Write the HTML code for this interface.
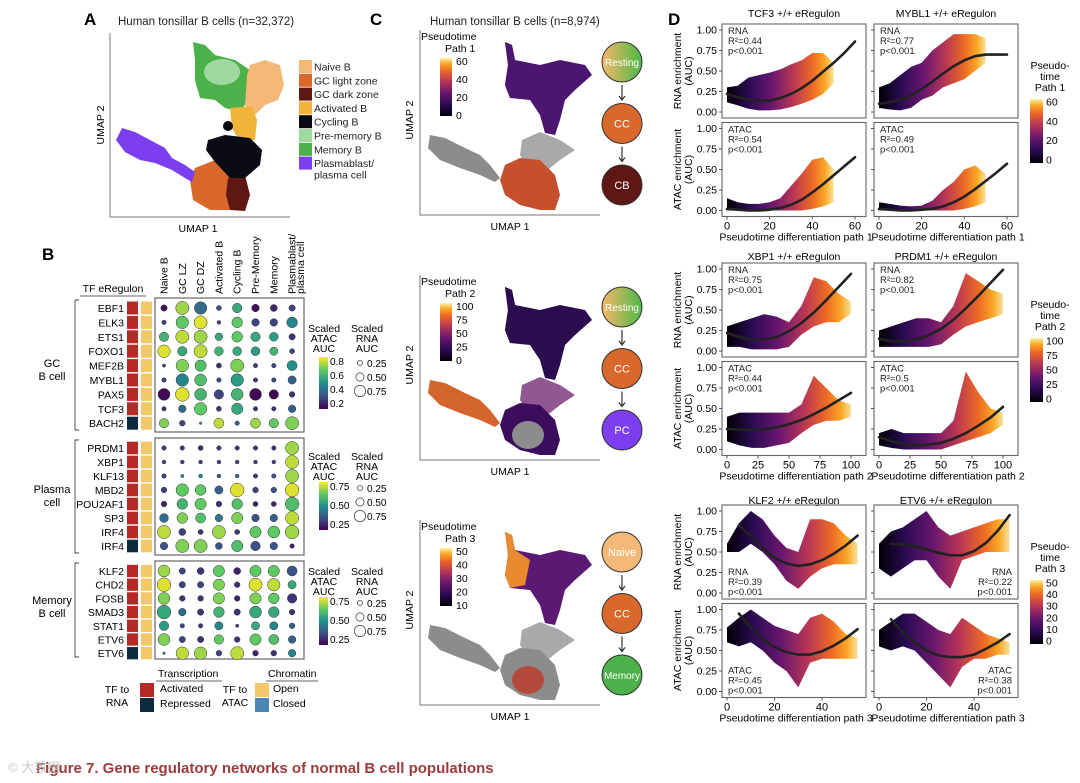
<!DOCTYPE html>
<html><head><meta charset="utf-8"><style>
body{margin:0;background:#fff}
svg{display:block;font-family:"Liberation Sans",Arial,sans-serif}
</style></head><body>
<svg id="fig" width="1080" height="783" viewBox="0 0 1080 783" xmlns="http://www.w3.org/2000/svg">
<defs>
<linearGradient id="infv" x1="0" x2="0" y1="1" y2="0">
<stop offset="0" stop-color="#000004"/><stop offset="0.2" stop-color="#2a0b52"/><stop offset="0.4" stop-color="#6a176e"/><stop offset="0.6" stop-color="#b83655"/><stop offset="0.78" stop-color="#ed6925"/><stop offset="0.9" stop-color="#f9a826"/><stop offset="1" stop-color="#fcf2a8"/></linearGradient>
<linearGradient id="virv" x1="0" x2="0" y1="1" y2="0">
<stop offset="0" stop-color="#440154"/><stop offset="0.25" stop-color="#3b528b"/><stop offset="0.5" stop-color="#21918c"/><stop offset="0.75" stop-color="#5ec962"/><stop offset="1" stop-color="#fde725"/></linearGradient>
<linearGradient id="resting" x1="0" x2="1"><stop offset="0" stop-color="#f4b86a"/><stop offset="1" stop-color="#4cb848"/></linearGradient>
</defs>

<g>
<text x="84" y="25" font-size="17" font-weight="bold">A</text>
<text x="118" y="25" font-size="11.5" fill="#222">Human tonsillar B cells (n=32,372)</text>
<path d="M110 33 V217 H290" fill="none" stroke="#777" stroke-width="1"/>
<text transform="translate(104,125) rotate(-90)" font-size="10.5" text-anchor="middle">UMAP 2</text>
<text x="198" y="232" font-size="10.5" text-anchor="middle">UMAP 1</text>
<polygon points="193,42 205,45 215,55 235,60 250,70 248,100 240,112 225,108 215,100 200,98 195,80 195,60" fill="#4cb14a"/>
<ellipse cx="222" cy="72" rx="18" ry="13" fill="#9fd8a0"/>
<polygon points="250,65 265,60 280,65 284,85 278,100 265,105 255,115 245,105 247,75" fill="#f4b878"/>
<polygon points="230,108 252,106 257,120 255,140 240,142 232,128" fill="#f0b43c"/>
<polygon points="195,168 215,160 235,170 240,200 232,210 210,210 193,200 190,180" fill="#d8682c"/>
<polygon points="228,178 245,175 250,195 245,211 230,210 226,195" fill="#5e1712"/>
<polygon points="208,140 225,135 250,138 262,150 260,165 245,178 230,178 215,162 206,150" fill="#0b0b14"/>
<ellipse cx="228" cy="126" rx="5" ry="5" fill="#0b0b14"/>
<polygon points="122,128 135,132 150,140 165,148 172,158 185,165 195,172 192,182 185,178 172,170 155,163 140,160 125,152 116,140" fill="#7b3ff0"/>
<g id="legA"></g>
</g>

<g id="panelB">
<text x="42" y="260" font-size="17" font-weight="bold">B</text>
<text x="113" y="292" font-size="10.5" text-anchor="middle">TF eRegulon</text>
<line x1="80" y1="296" x2="146" y2="296" stroke="#333" stroke-width="0.8"/>
</g>

<g id="panelC">
<text x="370" y="25" font-size="17" font-weight="bold">C</text>
<text x="430" y="25" font-size="11.5" fill="#222">Human tonsillar B cells (n=8,974)</text>
</g>

<g id="panelD">
<text x="668" y="25" font-size="17" font-weight="bold">D</text>
</g>

<text x="36" y="773" font-size="15" font-weight="bold" fill="#9c3b3b">Figure 7. Gene regulatory networks of normal B cell populations</text>
<text x="8" y="772" font-size="13" fill="#bbb" opacity="0.8">© 大数据</text>
</svg>

<script>
const NS="http://www.w3.org/2000/svg";
function mk(tag,attrs,parent,text){const e=document.createElementNS(NS,tag);for(const k in attrs)e.setAttribute(k,attrs[k]);if(text!==undefined)e.textContent=text;parent.appendChild(e);return e;}

const clusterNames=["Naive B","GC light zone","GC dark zone","Activated B","Cycling B","Pre-memory B","Memory B","Plasmablast/"];
const clusterColors=["#f4b878","#d8682c","#5e1712","#f0b43c","#0b0b14","#9fd8a0","#4cb14a","#7b3ff0"];
const legA=document.getElementById('legA');
clusterNames.forEach((n,i)=>{
  const y=60+i*13.8;
  const r=mk('rect',{x:299,y:y,width:13,height:13,fill:clusterColors[i]},legA);
  
  
  const t=mk('text',{x:314,y:y+10.5,'font-size':10.5,fill:'#222'},legA,n);
  
  
});
const pc=mk('text',{x:314,y:60+8*13.8+8,'font-size':10.5,fill:'#222'},legA,"plasma cell");



const cellTypes=["Naive B","GC LZ","GC DZ","Activated B","Cycling B","Pre-Memory","Memory","Plasmablast/"];
const gcRows=["EBF1","ELK3","ETS1","FOXO1","MEF2B","MYBL1","PAX5","TCF3","BACH2"];
const gcRep=[0,0,0,0,0,0,0,0,1];
const gcColor=[[.05,.85,.35,.25,.6,.05,.1,.2],[.2,.75,.95,.2,.75,.2,.2,.45],[.65,.9,.85,.6,.75,.6,.55,.15],[.95,.6,.9,.65,.6,.55,.65,.2],[.2,.8,.7,.15,.8,.2,.2,.5],[.2,.45,.7,.2,.55,.2,.2,.3],[.02,.95,.65,.2,.65,.02,.02,.15],[.15,.35,.75,.15,.6,.15,.15,.3],[.8,.2,.5,.9,.3,.85,.75,.8]];
const gcSize=[[.35,.9,.85,.25,.6,.45,.4,.35],[.2,.85,.9,.15,.7,.45,.45,.7],[.6,.9,.9,.45,.7,.6,.55,.35],[.85,.6,.9,.55,.55,.55,.5,.25],[.1,.85,.75,.25,.9,.2,.2,.65],[.2,.85,.8,.2,.85,.2,.2,.5],[.8,.95,.8,.6,.8,.8,.6,.3],[.2,.45,.85,.25,.75,.2,.2,.45],[.6,.3,.05,.65,.2,.65,.6,.9]];
const pcRows=["PRDM1","XBP1","KLF13","MBD2","POU2AF1","SP3","IRF4","IRF4"];
const pcRep=[0,0,0,0,0,0,0,1];
const pcColor=[[.15,.15,.15,.15,.15,.15,.15,.85],[.2,.2,.2,.2,.2,.2,.2,.9],[.2,.5,.5,.3,.4,.2,.25,.85],[.2,.75,.75,.3,.95,.2,.25,.95],[.1,.65,.75,.15,.7,.1,.1,.7],[.35,.8,.7,.4,.8,.25,.3,.9],[.9,.2,.15,.85,.15,.75,.75,.85],[.25,.8,.8,.25,.7,.25,.25,.1]];
const pcSize=[[.2,.2,.25,.2,.2,.2,.2,.9],[.15,.15,.15,.15,.15,.15,.15,.9],[.2,.1,.15,.15,.15,.2,.2,.9],[.3,.85,.7,.5,.95,.3,.3,.95],[.3,.7,.75,.3,.7,.25,.25,.95],[.55,.7,.65,.45,.75,.45,.45,.9],[.9,.4,.25,.9,.25,.75,.8,.95],[.45,.9,.9,.4,.75,.6,.45,.2]];
const memRows=["KLF2","CHD2","FOSB","SMAD3","STAT1","ETV6","ETV6"];
const memRep=[0,0,0,0,0,0,1];
const memColor=[[.85,.2,.15,.75,.1,.75,.75,.25],[.95,.2,.2,.8,.15,.95,.9,.6],[.8,.15,.15,.8,.1,.8,.75,.15],[.6,.35,.15,.65,.15,.6,.6,.15],[.55,.2,.15,.45,.2,.6,.45,.3],[.8,.2,.15,.75,.15,.75,.7,.3],[.5,.9,.85,.2,.9,.1,.15,.45]];
const memSize=[[.8,.35,.4,.75,.4,.75,.75,.65],[.95,.35,.35,.75,.3,.9,.85,.5],[.8,.3,.3,.75,.3,.75,.7,.6],[.95,.45,.35,.7,.35,.8,.7,.3],[.6,.2,.2,.5,.1,.5,.5,.3],[.8,.35,.35,.6,.3,.75,.65,.45],[.05,.85,.85,.3,.9,.3,.3,.45]];

const VIR=[[68,1,84],[59,82,139],[33,145,140],[94,201,98],[253,231,37]];
function viridis(v){v=Math.max(0,Math.min(1,v));const p=v*(VIR.length-1),i=Math.min(Math.floor(p),VIR.length-2),f=p-i;const c=VIR[i].map((a,k)=>Math.round(a+(VIR[i+1][k]-a)*f));return `rgb(${c})`;}
const colX=i=>164+i*18.3;
const rad=s=>1+s*6.2;

const pB=document.getElementById('panelB');
cellTypes.forEach((c,i)=>{
  const t=mk('text',{transform:`translate(${colX(i)+3.5},294) rotate(-90)`,'font-size':10.5},pB,c);
  
  
});
const pl=mk('text',{transform:`translate(${colX(7)+12},294) rotate(-90)`,'font-size':10.5},pB,"plasma cell");



function block(name,label,rows,rep,cols,sizes,y0,pitch,boxTop,boxBot,legTop,ticks,lx,ly){
  const g=mk('g',{},pB);
  
  
  const box=mk('rect',{x:155,y:boxTop,width:149,height:boxBot-boxTop,fill:'none',stroke:'#666','stroke-width':1.2},g);
  
  
  const br=mk('path',{d:`M79 ${boxTop+2} H75 V${boxBot-2} H79`,fill:'none',stroke:'#444','stroke-width':0.9},g);
  
  
  label.forEach((l,k)=>{const t=mk('text',{x:lx,y:ly+k*13,'font-size':11,'text-anchor':'middle'},g,l);
    
    });
  rows.forEach((r,j)=>{
    const y=y0+j*pitch;
    const t=mk('text',{x:124,y:y+4,'font-size':10.5,'text-anchor':'end'},g,r);
    
    
    const s1=mk('rect',{x:127,y:y-pitch/2+0.7,width:11,height:pitch-1.4,fill:rep[j]?'#0e2a3e':'#b52a26'},g);
    
    
    const s2=mk('rect',{x:141,y:y-pitch/2+0.7,width:11,height:pitch-1.4,fill:'#f3c86a'},g);
    
    
    cols[j].forEach((v,i)=>{
      const c=mk('circle',{cx:colX(i),cy:y,r:rad(sizes[j][i]),fill:viridis(v),stroke:'#333','stroke-width':0.5},g);
      
      
    });
  });
  ["Scaled","ATAC","AUC"].forEach((w,k)=>{const t=mk('text',{x:324,y:legTop+k*10,'font-size':10.5,'text-anchor':'middle'},g,w);});
  ["Scaled","RNA","AUC"].forEach((w,k)=>{const t=mk('text',{x:367,y:legTop+k*10,'font-size':10.5,'text-anchor':'middle'},g,w);});
  const bt=legTop+(ticks.length>3?25:22), bh=ticks.length>3?52:48;
  const cb=mk('rect',{x:319,y:bt,width:9,height:bh,fill:'url(#virv)'},g);
  
  
  ticks.forEach((tk,k)=>{const y=bt+4+k*(bh-10)/(ticks.length-1)+4;
    const t=mk('text',{x:330,y:y,'font-size':10},g,tk);});
  ["0.25","0.50","0.75"].forEach((tk,k)=>{const y=bt+6+k*14;
    const c=mk('circle',{cx:360,cy:y,r:rad(+tk),fill:'none',stroke:'#333','stroke-width':0.7},g);
    const t=mk('text',{x:367,y:y+4,'font-size':10},g,tk);});
}
block('gc-b-cell',["GC","B cell"],gcRows,gcRep,gcColor,gcSize,308,14.4,298,432,332,["0.8","0.6","0.4","0.2"],52,367);
block('plasma-cell',["Plasma","cell"],pcRows,pcRep,pcColor,pcSize,448,14,438,555,460,["0.75","0.50","0.25"],52,493);
block('memory-b-cell',["Memory","B cell"],memRows,memRep,memColor,memSize,571,13.7,561,659,575,["0.75","0.50","0.25"],52,604);

(function(){
  const g=mk('g',{},pB);
  
  
  const items=[["Transcription",158,677],["Chromatin",268,677],["TF to",117,693],["RNA",117,706],["Activated",160,692],["Repressed",160,707],["TF to",235,693],["ATAC",235,706],["Open",273,692],["Closed",273,707]];
  items.forEach(a=>{const t=mk('text',{x:a[1],y:a[2],'font-size':10.5,'text-anchor':a[0].startsWith('TF')||a[0]=='RNA'||a[0]=='ATAC'?'middle':'start'},g,a[0]);
    });
  const l1=mk('line',{x1:156,y1:681,x2:222,y2:681,stroke:'#333','stroke-width':0.8},g);
  const l2=mk('line',{x1:266,y1:681,x2:318,y2:681,stroke:'#333','stroke-width':0.8},g);
  [[140,683,'#b52a26'],[140,698,'#0e2a3e'],[255,683,'#f3c86a'],[255,698,'#4a86b4']].forEach(s=>{const r=mk('rect',{x:s[0],y:s[1],width:14,height:14,fill:s[2]},g);});
})();

const pC=document.getElementById('panelC');
const pathTicks=[["60","40","20","0"],["100","75","50","25","0"],["50","40","30","20","10"]];
const flows=[[["Resting","url(#resting)"],["CC","#d8682c"],["CB","#5e1712"]],[["Resting","url(#resting)"],["CC","#d8682c"],["PC","#7b3ff0"]],[["Naive","#f4b878"],["CC","#d8682c"],["Memory","#4cb14a"]]];
const umapFills=[
 {top:"#4c1670",topL:"#4c1670",left:"#8c8c8c",mid:"#8c8c8c",bot:"#c4502e",botC:"#c4502e"},
 {top:"#2b0c4f",topL:"#2b0c4f",left:"#d3652c",mid:"#6b1f6e",bot:"#3a0e5c",botC:"#8c8c8c"},
 {top:"#5a1a73",topL:"#ea8a2e",left:"#8c8c8c",mid:"#8c8c8c",bot:"#8c8c8c",botC:"#b44a3e"}];
[0,1,2].forEach(p=>{
  const dy=p*245;
  const g=mk('g',{transform:`translate(0,${dy})`},pC);
  
  
  const f=umapFills[p];
  const ax=mk('path',{d:'M420 30 V215 H600',fill:'none',stroke:'#777'},g);
  const yt=mk('text',{transform:'translate(413,120) rotate(-90)','font-size':10.5,'text-anchor':'middle'},g,'UMAP 2');
  const xt=mk('text',{x:510,y:230,'font-size':10.5,'text-anchor':'middle'},g,'UMAP 1');
  const shapes=[
   ['left',"430,135 445,138 465,148 480,155 490,165 500,178 495,182 480,175 460,168 440,160 428,148"],
   ['mid',"522,140 540,132 560,140 575,150 560,160 545,172 530,170 520,155"],
   ['bot',"505,165 520,158 540,160 555,175 560,195 555,210 540,210 520,205 505,195 500,180"],
   ['top',"505,42 512,45 515,60 540,65 560,60 585,65 592,75 575,90 565,100 560,120 555,135 545,133 540,115 530,100 510,98 505,85 508,65"]];
  shapes.forEach(s=>{const pg=mk('polygon',{points:s[1],fill:f[s[0]],opacity:s[0]=='mid'?0.75:1},g);});
  const tl=mk('polygon',{points:"505,42 512,45 515,60 530,70 525,95 510,98 505,85 508,65",fill:f.topL},g);
  const bc=mk('ellipse',{cx:528,cy:190,rx:16,ry:14,fill:f.botC},g);
  ["Pseudotime","Path "+(p+1)].forEach((w,k)=>{const t=mk('text',{x:k?445:421,y:40+k*12,'font-size':10.5},g,w);});
  const cb=mk('rect',{x:440,y:58,width:12,height:58,fill:'url(#infv)'},g);
  const tk=pathTicks[p];
  tk.forEach((t,k)=>{const y=62+k*54/(tk.length-1)+3;const e=mk('text',{x:456,y:y,'font-size':10.5},g,t);});
  flows[p].forEach((n,k)=>{const cy=62+k*61.5;
    const c=mk('circle',{cx:622,cy:cy,r:20,fill:n[1],stroke:'#333','stroke-width':1},g);
    const t=mk('text',{x:622,y:cy+4,'font-size':n[0].length>5?10:11,fill:'#fff','text-anchor':'middle'},g,n[0]);
    if(k<2){const a=mk('path',{d:`M622 ${cy+23} V${cy+37} M619 ${cy+34} L622 ${cy+38} L625 ${cy+34}`,stroke:'#333',fill:'none','stroke-width':1.2},g);}
  });
});

const g1BandX=[0,5,10,15,20,25,30,35,40,45,50];
const g1FitX=[0,5,10,15,20,25,30,35,40,45,50,55,60];
const tcf3RnaUp=[.3,.32,.42,.45,.48,.52,.58,.63,.72,.72,.6];
const tcf3RnaLo=[.12,.08,.04,.02,.02,.03,.06,.1,.15,.22,.35];
const tcf3RnaFit=[.22,.18,.15,.14,.14,.17,.22,.29,.38,.49,.6,.72,.86];
const mybl1RnaUp=[.3,.35,.45,.55,.6,.75,.85,.95,.95,.95,.9];
const mybl1RnaLo=[.05,.03,.02,.05,.15,.2,.3,.35,.4,.5,.6];
const mybl1RnaFit=[.1,.12,.15,.2,.28,.37,.47,.56,.63,.68,.7,.7,.7];
const tcf3AtacUp=[.15,.1,.08,.08,.1,.15,.3,.45,.62,.65,.5];
const tcf3AtacLo=[0,0,0,0,0,0,0,0,.02,.05,.1];
const tcf3AtacFit=[.02,.01,0,0,.01,.03,.07,.13,.22,.32,.43,.54,.65];
const mybl1AtacUp=[.1,.08,.06,.05,.06,.12,.25,.35,.5,.55,.45];
const mybl1AtacLo=[0,0,0,0,0,0,0,0,.02,.05,.1];
const mybl1AtacFit=[.02,.01,0,0,.01,.02,.05,.1,.17,.26,.36,.46,.57];
const g2BandX=[0,10,20,30,40,50,60,70,80,90,100];
const g2FitX=[0,10,20,30,40,50,60,70,80,90,100];
const xbp1RnaUp=[.3,.35,.4,.45,.42,.35,.55,.9,.85,.7,.6];
const xbp1RnaLo=[.05,.05,.02,.02,.02,.05,.2,.3,.35,.35,.45];
const xbp1RnaFit=[.22,.17,.14,.14,.17,.24,.34,.47,.62,.78,.94];
const prdm1RnaUp=[.25,.3,.35,.4,.4,.35,.55,.95,.85,.75,.7];
const prdm1RnaLo=[.05,.05,.05,.05,.05,.08,.2,.3,.35,.4,.45];
const prdm1RnaFit=[.15,.12,.12,.14,.19,.27,.38,.52,.67,.83,.99];
const xbp1AtacUp=[.4,.45,.45,.45,.45,.45,.55,.9,.75,.6,.55];
const xbp1AtacLo=[.1,.05,.02,.02,.05,.08,.2,.3,.35,.35,.4];
const xbp1AtacFit=[.25,.24,.24,.25,.27,.31,.36,.43,.51,.6,.69];
const prdm1AtacUp=[.2,.25,.2,.2,.2,.2,.35,.95,.7,.5,.45];
const prdm1AtacLo=[.05,.02,0,0,0,0,.05,.1,.15,.2,.3];
const prdm1AtacFit=[.15,.1,.07,.05,.06,.08,.13,.2,.29,.39,.52];
const g3BandX=[0,5,10,15,20,25,30,35,40,45,50,55];
const g3FitX=[5,10,15,20,25,30,35,40,45,50,55];
const klf2RnaUp=[.6,.85,1.0,.9,.7,.55,.5,.9,.9,.85,.7,.6];
const klf2RnaLo=[.5,.5,.6,.5,.35,.15,.05,.2,.3,.35,.35,.35];
const klf2RnaFit=[.82,.7,.55,.43,.36,.33,.35,.4,.48,.58,.7];
const etv6RnaUp=[.6,.75,.8,.9,1.0,.8,.7,.75,.8,.85,.9,.9];
const etv6RnaLo=[.3,.2,.3,.4,.4,.2,.05,.4,.45,.5,.5,.5];
const etv6RnaFit=[.6,.59,.57,.53,.49,.46,.46,.51,.61,.76,.95];
const klf2AtacUp=[.78,.9,1.0,.9,.8,.75,.7,.9,.95,.85,.7,.65];
const klf2AtacLo=[.6,.55,.6,.5,.35,.25,.05,.35,.4,.4,.4,.4];
const klf2AtacFit=[.95,.78,.64,.54,.48,.45,.45,.49,.56,.65,.76];
const etv6AtacUp=[.75,.85,.95,.95,.85,.75,.7,.9,.8,.7,.65,.6];
const etv6AtacLo=[.55,.5,.55,.5,.35,.2,.05,.3,.4,.4,.45,.45];
const etv6AtacFit=[.88,.72,.6,.5,.44,.42,.42,.45,.52,.6,.7];

const groups=[
 {top:24,title:15,xTicks:[0,20,40,60],xRef:60,xRefPx:128,path:"1",bandX:g1BandX,fitX:g1FitX,cbTicks:["60","40","20","0"],
  names:["TCF3","MYBL1"],
  panels:[[tcf3RnaUp,tcf3RnaLo,tcf3RnaFit,"RNA","R²=0.44"],[mybl1RnaUp,mybl1RnaLo,mybl1RnaFit,"RNA","R²=0.77"],[tcf3AtacUp,tcf3AtacLo,tcf3AtacFit,"ATAC","R²=0.54"],[mybl1AtacUp,mybl1AtacLo,mybl1AtacFit,"ATAC","R²=0.49"]],labBottom:[0,0,0,0]},
 {top:263,title:258,xTicks:[0,25,50,75,100],xRef:100,xRefPx:124,path:"2",bandX:g2BandX,fitX:g2FitX,cbTicks:["100","75","50","25","0"],
  names:["XBP1","PRDM1"],
  panels:[[xbp1RnaUp,xbp1RnaLo,xbp1RnaFit,"RNA","R²=0.75"],[prdm1RnaUp,prdm1RnaLo,prdm1RnaFit,"RNA","R²=0.82"],[xbp1AtacUp,xbp1AtacLo,xbp1AtacFit,"ATAC","R²=0.44"],[prdm1AtacUp,prdm1AtacLo,prdm1AtacFit,"ATAC","R²=0.5"]],labBottom:[0,0,0,0]},
 {top:505,title:502,xTicks:[0,20,40],xRef:40,xRefPx:95,path:"3",bandX:g3BandX,fitX:g3FitX,cbTicks:["50","40","30","20","10","0"],
  names:["KLF2","ETV6"],
  panels:[[klf2RnaUp,klf2RnaLo,klf2RnaFit,"RNA","R²=0.39"],[etv6RnaUp,etv6RnaLo,etv6RnaFit,"RNA","R²=0.22"],[klf2AtacUp,klf2AtacLo,klf2AtacFit,"ATAC","R²=0.45"],[etv6AtacUp,etv6AtacLo,etv6AtacFit,"ATAC","R²=0.38"]],labBottom:[1,2,1,2]}
];
const pD=document.getElementById('panelD');
const boxW=144, boxH=94, colLeft=[722,874];
const yTicks=[0,0.25,0.5,0.75,1];
let clipId=0;
groups.forEach((G,gi)=>{
  const gg=mk('g',{},pD);
  
  
  G.names.forEach((n,c)=>{const t=mk('text',{x:colLeft[c]+boxW/2,y:G.title+2,'font-size':10.5,'text-anchor':'middle'},gg,n+" +/+ eRegulon");
    });
  G.panels.forEach((P,pi)=>{
    const col=pi%2,row=Math.floor(pi/2);
    const bx=colLeft[col],by=G.top+row*98.5;
    const sx=v=>bx+5+v*(G.xRefPx/G.xRef);
    const sy=v=>by+boxH-6-v*(boxH-12);
    const g=mk('g',{},gg);
    
    
    const id='cl'+(clipId++);
    const cp=mk('clipPath',{id:id},g);mk('rect',{x:bx,y:by,width:boxW,height:boxH},cp);
    const up=P[0],lo=P[1],fit=P[2];
    let d="M"+G.bandX.map((x,i)=>sx(x).toFixed(1)+","+sy(up[i]).toFixed(1)).join(" L");
    for(let i=G.bandX.length-1;i>=0;i--)d+=" L"+sx(G.bandX[i]).toFixed(1)+","+sy(lo[i]).toFixed(1);
    d+="Z";
    const gradId='gd'+id;
    const lg=mk('linearGradient',{id:gradId,gradientUnits:'userSpaceOnUse',x1:sx(0),x2:sx(G.bandX[G.bandX.length-1]),y1:0,y2:0},g);
    [["0","#000004"],["0.2","#2a0b52"],["0.42","#6a176e"],["0.62","#b83655"],["0.8","#ed6925"],["0.92","#f9a826"],["1","#f8e3a0"]].forEach(s=>mk('stop',{offset:s[0],'stop-color':s[1]},lg));
    const band=mk('path',{d:d,fill:`url(#${gradId})`,'stroke-linejoin':'round','clip-path':`url(#${id})`},g);
    
    
    const fd="M"+G.fitX.map((x,i)=>sx(x).toFixed(1)+","+sy(fit[i]).toFixed(1)).join(" L");
    const fl=mk('path',{d:fd,fill:'none',stroke:'#222','stroke-width':2.6,'stroke-linecap':'round','clip-path':`url(#${id})`},g);
    
    
    const fr=mk('rect',{x:bx,y:by,width:boxW,height:boxH,fill:'none',stroke:'#666','stroke-width':1.1},g);
    
    
    yTicks.forEach(v=>{const tl=mk('line',{x1:bx-3,x2:bx,y1:sy(v),y2:sy(v),stroke:'#555'},g);
      if(col==0){const t=mk('text',{x:bx-5,y:sy(v)+3.5,'font-size':10.5,'text-anchor':'end'},g,v.toFixed(2));}});
    if(row==1){G.xTicks.forEach(v=>{const tl=mk('line',{x1:sx(v),x2:sx(v),y1:by+boxH,y2:by+boxH+3,stroke:'#555'},g);
      const t=mk('text',{x:sx(v),y:by+boxH+13,'font-size':11,'text-anchor':'middle'},g,String(v));});
      const xt=mk('text',{x:bx+boxW/2+2,y:by+boxH+24,'font-size':10.5,'text-anchor':'middle'},g,"Pseudotime differentiation path "+G.path);}
    const lb=G.labBottom[pi];
    const lines=[P[3],P[4],"p<0.001"];
    lines.forEach((l,k)=>{
      let x,y,anc='start';
      if(lb==0){x=bx+6;y=by+10+k*10;} else if(lb==1){x=bx+6;y=by+boxH-24+k*10;} else {x=bx+boxW-6;y=by+boxH-24+k*10;anc='end';}
      const t=mk('text',{x:x,y:y,'font-size':9.5,'text-anchor':anc,fill:'#222'},g,l);
      
    });
    if(col==0){
      const words=P[3]=="RNA"?"RNA enrichment":"ATAC enrichment";
      const yt=mk('text',{transform:`translate(${bx-41},${by+boxH/2}) rotate(-90)`,'font-size':10.5,'text-anchor':'middle'},g,words);
      
      const yt2=mk('text',{transform:`translate(${bx-30},${by+boxH/2}) rotate(-90)`,'font-size':10.5,'text-anchor':'middle'},g,"(AUC)");
      
    }
  });
  const ly=G.top+45;
  ["Pseudo-","time","Path "+G.path].forEach((w,k)=>{const t=mk('text',{x:1050,y:ly+k*11,'font-size':10.5,'text-anchor':'middle'},gg,w);});
  const cbY=ly+30,cbH=64;
  const cb=mk('rect',{x:1030,y:cbY,width:13,height:cbH,fill:'url(#infv)'},gg);
  G.cbTicks.forEach((t,k)=>{const y=cbY+3+k*(cbH-6)/(G.cbTicks.length-1)+3.5;const e=mk('text',{x:1046,y:y,'font-size':10.5},gg,t);});
});
</script>
</body></html>
